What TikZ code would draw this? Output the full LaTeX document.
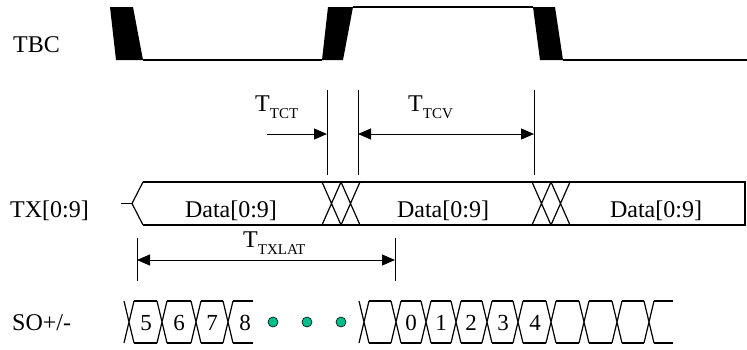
\documentclass[tikz,border=0pt]{standalone}
\usepackage{fontspec}
\setmainfont{Liberation Serif}
\usetikzlibrary{arrows.meta}
\newcommand{\subf}{\fontsize{15}{15}\selectfont}
\newcommand{\tsub}[1]{T\raisebox{-7pt}{\subf #1}}
\definecolor{dotgreen}{RGB}{0,190,140}
\begin{document}
\begin{tikzpicture}[x=1pt,y=-1pt,
  lbl/.style={anchor=base west,inner sep=0pt,font=\fontsize{24}{28}\selectfont},
  dlbl/.style={anchor=base,inner sep=0pt,font=\fontsize{24}{28}\selectfont},
  digit/.style={anchor=base,inner sep=0pt,font=\fontsize{23}{26}\selectfont},
  sig/.style={line width=1.2pt},
  dim/.style={line width=1pt,{Triangle[length=13pt,width=11pt]}-{Triangle[length=13pt,width=11pt]}},
  dimr/.style={line width=1pt,-{Triangle[length=13pt,width=11pt]}},
  refl/.style={line width=1pt},
  gdot/.style={circle,draw=black,fill=dotgreen,line width=0.6pt,minimum size=10pt,inner sep=0pt}
]
\useasboundingbox (0,0) rectangle (747,349);

% labels
\node[lbl] (tbc) at (13,52) {TBC};
\node[lbl] (tx) at (10,217) {TX[0:9]};
\node[lbl] (so) at (12,330) {SO+/-};

% TBC waveform
\fill (110,7) -- (133,7) -- (143,60) -- (116,60) -- cycle;
\draw[sig] (143,60) -- (322,60);
\fill (328,7) -- (353,7) -- (343,60) -- (322,60) -- cycle;
\draw[sig] (353,7) -- (533,7);
\fill (533,7) -- (555,7) -- (563,60) -- (540,60) -- cycle;
\draw[sig] (563,60) -- (747,60);

% timing reference lines
\coordinate (a1) at (327,90);  \coordinate (a2) at (327,175);
\coordinate (b1) at (358,90);  \coordinate (b2) at (358,175);
\coordinate (c1) at (534,90);  \coordinate (c2) at (534,175);
\draw[refl] (a1) -- (a2);
\draw[refl] (b1) -- (b2);
\draw[refl] (c1) -- (c2);
\coordinate (tctS) at (267,134);
\coordinate (tctE) at (327,134);
\coordinate (tcvS) at (358,134);
\coordinate (tcvE) at (534,134);
\draw[dimr] (tctS) -- (tctE);
\draw[dim] (tcvS) -- (tcvE);
\node[lbl] (ltct) at (255,111) {\tsub{TCT}};
\node[lbl] (ltcv) at (408,111) {\tsub{TCV}};

% TX bus
\draw[sig] (121,203.5) -- (132,203.5);
\draw[sig] (143,182) -- (132,203.5) -- (143,225);
\draw[sig] (143,182) -- (745,182) -- (745,225) -- (143,225);
\foreach \a in {322,532}{
  \draw[sig] (\a,182) -- ({\a+19},225) (\a,225) -- ({\a+19},182)
             ({\a+19},182) -- ({\a+38},225) ({\a+19},225) -- ({\a+38},182);
}
\node[dlbl] (d1) at (231,217) {Data[0:9]};
\node[dlbl] (d2) at (443,217) {Data[0:9]};
\node[dlbl] (d3) at (656,217) {Data[0:9]};

% TXLAT
\coordinate (l1) at (137,238); \coordinate (l2) at (137,281);
\coordinate (r1) at (395,238); \coordinate (r2) at (395,281);
\draw[refl] (l1) -- (l2);
\draw[refl] (r1) -- (r2);
\coordinate (latS) at (137,260);
\coordinate (latE) at (395,260);
\draw[dim] (latS) -- (latE);
\node[lbl] (ltxlat) at (243,247) {\tsub{TXLAT}};

% SO bus
\def\hw{5}
\foreach \c in {129,162,196,228}{
  \draw[sig] ({\c-\hw},301) -- ({\c+\hw},343) ({\c-\hw},343) -- ({\c+\hw},301);
}
\foreach \a/\b in {129/162,162/196,196/228}{
  \draw[sig] ({\a+\hw},301) -- ({\b-\hw},301) ({\a+\hw},343) -- ({\b-\hw},343);
}
\draw[sig] (233,301) -- (253,301) (233,343) -- (253,343);
\foreach \c in {364,396,426,456,487,518,551,584,617,649}{
  \draw[sig] ({\c-\hw},301) -- ({\c+\hw},343) ({\c-\hw},343) -- ({\c+\hw},301);
}
\foreach \a/\b in {364/396,396/426,426/456,456/487,487/518,518/551,551/584,584/617,617/649}{
  \draw[sig] ({\a+\hw},301) -- ({\b-\hw},301) ({\a+\hw},343) -- ({\b-\hw},343);
}
\draw[sig] (654,301) -- (673,301) (654,343) -- (673,343);
\node[digit] (n5) at (146,330) {5};
\node[digit] (n6) at (179,330) {6};
\node[digit] (n7) at (212,330) {7};
\node[digit] (n8) at (245,330) {8};
\node[digit] (n0) at (411,330) {0};
\node[digit] (n1) at (441,330) {1};
\node[digit] (n2) at (471,330) {2};
\node[digit] (n3) at (503,330) {3};
\node[digit] (n4) at (535,330) {4};
\node[gdot] (g1) at (273,322) {};
\node[gdot] (g2) at (307,322) {};
\node[gdot] (g3) at (341,322) {};
\end{tikzpicture}
\end{document}
